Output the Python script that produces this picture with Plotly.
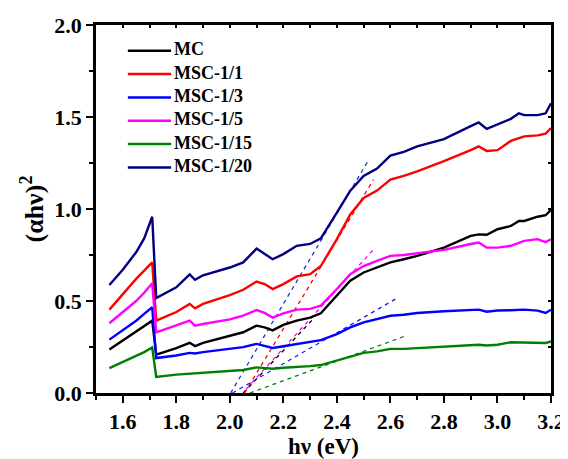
import plotly.graph_objects as go

# Photon energy (eV)
X = [1.55, 1.60, 1.65, 1.68, 1.71, 1.725, 1.80, 1.85, 1.87, 1.90, 2.00, 2.05, 2.10, 2.13,
     2.16, 2.20, 2.25, 2.30, 2.34, 2.40, 2.45, 2.50, 2.55, 2.60, 2.65, 2.70, 2.80, 2.90,
     2.93, 2.96, 3.00, 3.05, 3.08, 3.10, 3.15, 3.18, 3.20]

MC = [0.236, 0.285, 0.33, 0.36, 0.393, 0.208, 0.244, 0.273, 0.255, 0.273, 0.309, 0.33, 0.366, 0.357,
      0.34, 0.37, 0.393, 0.41, 0.433, 0.529, 0.61, 0.655, 0.682, 0.71, 0.727, 0.745, 0.79, 0.854,
      0.862, 0.86, 0.89, 0.908, 0.935, 0.935, 0.958, 0.966, 0.995]
MSC_1_1 = [0.453, 0.538, 0.62, 0.665, 0.71, 0.393, 0.44, 0.484, 0.46, 0.484, 0.532, 0.561, 0.606, 0.592,
           0.565, 0.592, 0.634, 0.646, 0.69, 0.836, 0.97, 1.06, 1.10, 1.16, 1.18, 1.205, 1.26, 1.32,
           1.34, 1.315, 1.32, 1.37, 1.385, 1.395, 1.40, 1.41, 1.44]
MSC_1_3 = [0.29, 0.34, 0.393, 0.43, 0.466, 0.19, 0.204, 0.218, 0.215, 0.222, 0.24, 0.249, 0.267, 0.258,
           0.245, 0.254, 0.267, 0.276, 0.287, 0.32, 0.357, 0.384, 0.40, 0.42, 0.425, 0.435, 0.444, 0.448,
           0.453, 0.442, 0.448, 0.45, 0.453, 0.453, 0.448, 0.435, 0.453]
MSC_1_5 = [0.379, 0.44, 0.50, 0.545, 0.596, 0.33, 0.366, 0.393, 0.366, 0.375, 0.40, 0.42, 0.451, 0.435,
           0.41, 0.433, 0.453, 0.457, 0.475, 0.565, 0.646, 0.69, 0.718, 0.745, 0.75, 0.76, 0.778, 0.81,
           0.818, 0.79, 0.79, 0.80, 0.815, 0.827, 0.836, 0.82, 0.836]
MSC_1_15 = [0.135, 0.168, 0.20, 0.222, 0.247, 0.087, 0.10, 0.105, 0.105, 0.11, 0.119, 0.125, 0.139, 0.135,
            0.132, 0.137, 0.14, 0.146, 0.152, 0.177, 0.20, 0.218, 0.226, 0.24, 0.24, 0.244, 0.25, 0.262,
            0.262, 0.258, 0.262, 0.276, 0.276, 0.276, 0.276, 0.272, 0.28]
MSC_1_20 = [0.587, 0.67, 0.765, 0.84, 0.958, 0.516, 0.574, 0.644, 0.615, 0.64, 0.682, 0.71, 0.785, 0.755,
            0.727, 0.755, 0.80, 0.81, 0.84, 0.98, 1.10, 1.18, 1.22, 1.29, 1.31, 1.34, 1.38, 1.45,
            1.47, 1.435, 1.46, 1.49, 1.52, 1.51, 1.51, 1.52, 1.575]

names = ["MC", "MSC-1/1", "MSC-1/3", "MSC-1/5", "MSC-1/15", "MSC-1/20"]
series = [MC, MSC_1_1, MSC_1_3, MSC_1_5, MSC_1_15, MSC_1_20]
colors = ["#000000", "#ff0000", "#0000ff", "#ff00ff", "#008000", "#000080"]

# Tangent (Tauc) extrapolation lines: endpoints (x, y)
tan_x = {
    "MC": [2.05, 2.31],
    "MSC-1/1": [2.055, 2.537],
    "MSC-1/3": [2.01, 2.63],
    "MSC-1/5": [2.06, 2.537],
    "MSC-1/15": [2.075, 2.65],
    "MSC-1/20": [2.003, 2.52],
}
tan_y = {
    "MC": [0.0, 0.40],
    "MSC-1/1": [0.0, 1.16],
    "MSC-1/3": [0.0, 0.52],
    "MSC-1/5": [0.02, 0.78],
    "MSC-1/15": [0.0, 0.307],
    "MSC-1/20": [0.0, 1.27],
}
tan_colors = {"MC": "#000000", "MSC-1/1": "#ff0000", "MSC-1/3": "#1a1aff",
              "MSC-1/5": "#ff00ff", "MSC-1/15": "#008000", "MSC-1/20": "#2233dd"}

FONT = "Liberation Serif, Times New Roman, serif"

fig = go.Figure()
for n in names:
    fig.add_trace(go.Scatter(x=tan_x[n], y=tan_y[n], mode="lines", showlegend=False,
                             line=dict(color=tan_colors[n], width=1.3, dash="4px,4px")))
for n, s, c in zip(names, series, colors):
    fig.add_trace(go.Scatter(x=X, y=s, mode="lines", name=n, showlegend=False,
                             line=dict(color=c, width=2.4)))

# Manual legend (paper coordinates)
LEG_X0, LEG_X1, LEG_TX = 0.070, 0.165, 0.168
LEG_Y0, LEG_DY = 0.930, 0.0634
shapes = []
annotations = []
for i, (n, c) in enumerate(zip(names, colors)):
    yy = LEG_Y0 - i * LEG_DY
    shapes.append(dict(type="line", xref="paper", yref="paper", x0=LEG_X0, x1=LEG_X1,
                       y0=yy, y1=yy, line=dict(color=c, width=2.5)))
    annotations.append(dict(xref="paper", yref="paper", x=LEG_TX, y=yy + 0.004, text=n,
                            showarrow=False, xanchor="left", yanchor="middle",
                            font=dict(family=FONT, size=18, color="black", weight="bold")))

axis_font = dict(family=FONT, size=22, color="black", weight="bold")

fig.update_layout(
    width=560, height=451,
    margin=dict(l=88, r=17, t=17, b=66),
    paper_bgcolor="white", plot_bgcolor="white",
    font=dict(family=FONT, color="black"),
    shapes=shapes, annotations=annotations,
    xaxis=dict(range=[1.5, 3.2], tickmode="array", automargin=False,
               tickvals=[1.6, 1.8, 2.0, 2.2, 2.4, 2.6, 2.8, 3.0, 3.2],
               ticktext=["1.6", "1.8", "2.0", "2.2", "2.4", "2.6", "2.8", "3.0", "3.2"],
               ticks="outside", ticklen=7, tickwidth=2, tickcolor="black",
               minor=dict(tickvals=[1.5, 1.7, 1.9, 2.1, 2.3, 2.5, 2.7, 2.9, 3.1],
                          ticks="outside", ticklen=4, tickwidth=2, tickcolor="black"),
               showline=True, linewidth=2.5, linecolor="black", mirror=True,
               showgrid=False, zeroline=False, tickfont=axis_font,
               title=dict(text="hν (eV)", font=dict(family=FONT, size=23, weight="bold"), standoff=2)),
    yaxis=dict(range=[0, 2.0], tickmode="array", automargin=False,
               tickvals=[0.0, 0.5, 1.0, 1.5, 2.0],
               ticktext=["0.0", "0.5", "1.0", "1.5", "2.0"],
               ticks="outside", ticklen=7, tickwidth=2, tickcolor="black",
               minor=dict(tickvals=[0.25, 0.75, 1.25, 1.75],
                          ticks="outside", ticklen=4, tickwidth=2, tickcolor="black"),
               showline=True, linewidth=2.5, linecolor="black", mirror=True,
               showgrid=False, zeroline=False, tickfont=axis_font,
               title=dict(text="(αhν)<sup>2</sup>", font=dict(family=FONT, size=26, weight="bold"), standoff=4)),
    xaxis2=dict(range=[1.5, 3.2], overlaying="x", side="top", anchor="y", automargin=False,
                tickmode="array", tickvals=[1.5 + 0.1 * i for i in range(18)],
                ticks="inside", ticklen=3, tickwidth=1.5, tickcolor="black",
                showticklabels=False, showgrid=False, zeroline=False, showline=False),
    yaxis2=dict(range=[0, 2.0], overlaying="y", side="right", anchor="x", automargin=False,
                tickmode="array", tickvals=[0.25 * i for i in range(9)],
                ticks="inside", ticklen=3, tickwidth=1.5, tickcolor="black",
                showticklabels=False, showgrid=False, zeroline=False, showline=False),
)
fig.add_trace(go.Scatter(x=[None], y=[None], xaxis="x2", yaxis="y2", showlegend=False, hoverinfo="skip"))

fig.write_html("out.html")
